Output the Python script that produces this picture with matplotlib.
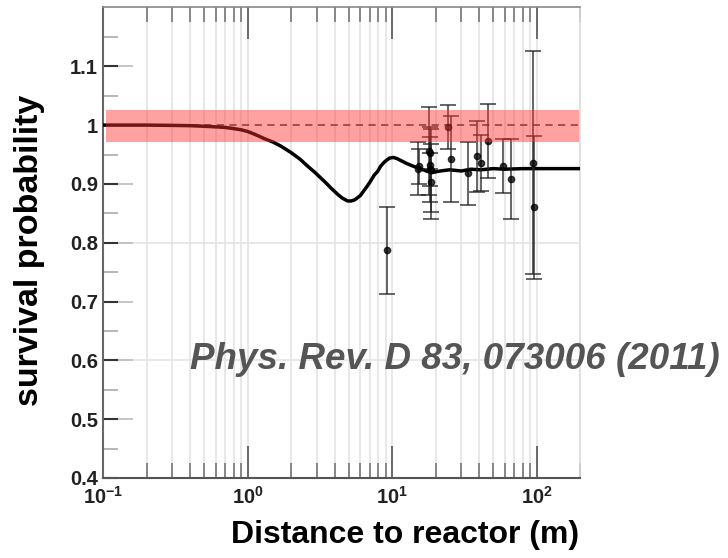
import matplotlib

matplotlib.use("Agg")
import matplotlib.pyplot as plt
import numpy as np

# oscillation curve
curve_x = [0.1, 0.2, 0.3, 0.4, 0.5, 0.6, 0.7, 0.8, 0.9, 1.0, 1.1, 1.2, 1.3,
           1.5, 1.7, 2.0, 2.3, 2.6, 2.9, 3.4, 3.8, 4.2, 4.5, 4.9, 5.2, 5.5,
           6.0, 6.7, 7.0, 7.5, 7.9, 8.3, 8.8, 9.2, 9.6, 10.2, 10.8, 11.2,
           12.5, 14, 16, 18.5, 21.5, 25, 30, 35, 41, 50, 60, 80, 100, 150, 200]
curve_y = [1.000, 1.000, 0.9995, 0.999, 0.998, 0.997, 0.996, 0.994, 0.992,
           0.989, 0.985, 0.981, 0.977, 0.971, 0.964, 0.953, 0.942, 0.930,
           0.920, 0.904, 0.892, 0.882, 0.876, 0.871, 0.871, 0.873, 0.880,
           0.896, 0.903, 0.915, 0.921, 0.930, 0.937, 0.941, 0.944, 0.945,
           0.943, 0.941, 0.935, 0.930, 0.925, 0.919, 0.922, 0.924, 0.922,
           0.925, 0.924, 0.926, 0.925, 0.926, 0.926, 0.926, 0.926]

# measured / expected ratios with their errors
dist = [9.16, 15.0, 15.3, 18.0, 18.2, 18.4, 18.5, 18.3, 18.1, 24.5, 25.4,
        33.7, 38.9, 41.0, 46.3, 58.2, 66.4, 94.9, 96.0]
ratio = [0.787, 0.926, 0.930, 0.956, 0.933, 0.923, 0.904, 0.925, 0.952,
         0.997, 0.943, 0.918, 0.947, 0.936, 0.973, 0.930, 0.908, 0.936, 0.860]
err = [0.074, 0.045, 0.030, 0.074, 0.064, 0.070, 0.064, 0.028, 0.027, 0.037,
       0.073, 0.053, 0.060, 0.048, 0.063, 0.046, 0.068, 0.190, 0.121]

band_lo, band_hi = 0.971, 1.025

xticks = [0.1, 1, 10, 100]
xtick_labels = [r"$10^{-1}$", r"$10^{0}$", r"$10^{1}$", r"$10^{2}$"]
yticks = [0.4, 0.5, 0.6, 0.7, 0.8, 0.9, 1.0, 1.1]
ytick_labels = ["0.4", "0.5", "0.6", "0.7", "0.8", "0.9", "1", "1.1"]

plt.rcParams["font.family"] = ["Liberation Sans", "DejaVu Sans"]
plt.rcParams["mathtext.fontset"] = "custom"
plt.rcParams["mathtext.rm"] = "Liberation Sans:bold"
plt.rcParams["mathtext.bf"] = "Liberation Sans:bold"
plt.rcParams["mathtext.it"] = "Liberation Sans:bold:italic"

fig = plt.figure(figsize=(7.28, 5.58), dpi=100)
ax = fig.add_axes([0.142, 0.1434, 0.655, 0.8432])
ax.set_xscale("log")
ax.set_xlim(0.1, 200)
ax.set_ylim(0.4, 1.2)

# light vertical grid at every decade sub-division
minor_x = [m * 10.0**e for e in (-1, 0, 1, 2) for m in range(1, 10) if m * 10.0**e <= 200]
for xv in minor_x:
    ax.axvline(xv, color="#e4e4e4", lw=1.2, zorder=0)
for yv in (0.6, 0.8):
    ax.axhline(yv, color="#e4e4e4", lw=1.2, zorder=0)
# gray extension of the major y ticks
ax.hlines(yticks, 0, 0.063, transform=ax.get_yaxis_transform(),
          color="#bbbbbb", lw=1.2, zorder=1)

ax.axhline(1.0, color="#555555", lw=1.3, ls=(0, (4, 3)), zorder=2)
ax.plot(curve_x, curve_y, color="black", lw=2.5, zorder=3,
        solid_joinstyle="round")
ax.errorbar(dist, ratio, yerr=err, fmt="o", color="black", ms=4.5,
            ecolor="#222222", elinewidth=1.3, capsize=5.5, capthick=1.3,
            alpha=0.75, zorder=4)
ax.axhspan(band_lo, band_hi, xmin=0.005, xmax=0.997, color="#ff3030",
           alpha=0.45, lw=0, zorder=5)

ax.set_xticks(xticks)
ax.set_xticklabels(xtick_labels)
ax.set_yticks(yticks)
ax.set_yticklabels(ytick_labels)
ax.set_yticks(np.arange(0.45, 1.2, 0.1), minor=True)
ax.set_xticks([v for v in minor_x if v not in xticks], minor=True)
ax.xaxis.set_minor_formatter(matplotlib.ticker.NullFormatter())

ax.tick_params(axis="x", which="major", direction="in", length=23, width=1.2,
               color="#555555", top=True, labelsize=14.5, pad=6)
ax.tick_params(axis="x", which="minor", direction="in", length=11, width=1.2,
               color="#777777", top=True)
ax.tick_params(axis="y", which="major", direction="in", length=11, width=1.5,
               color="#333333", labelsize=14.5, pad=4)
ax.tick_params(axis="y", which="minor", direction="in", length=11, width=1.2,
               color="#aaaaaa")
for lab in ax.get_yticklabels():
    lab.set_fontweight("bold")
    lab.set_color("#222222")
for lab in ax.get_xticklabels():
    lab.set_color("#222222")

ax.spines["left"].set_color("#666666")
ax.spines["left"].set_linewidth(1.5)
ax.spines["bottom"].set_color("#555555")
ax.spines["bottom"].set_linewidth(1.5)
ax.spines["top"].set_color("#888888")
ax.spines["top"].set_linewidth(1.2)
ax.spines["right"].set_color("#dddddd")
ax.spines["right"].set_linewidth(1.2)

fig.text(0.041, 0.552, "survival probability", rotation=90, ha="center",
         va="center", fontsize=24.5, fontweight="bold")
fig.text(0.556, 0.041, "Distance to reactor (m)", ha="center", va="center",
         fontsize=23, fontweight="bold")
fig.text(0.261, 0.355, "Phys. Rev. D 83, 073006 (2011)", ha="left",
         va="center", fontsize=26.5, fontweight="bold", style="italic",
         color="#555555")

fig.savefig("out.png", dpi=100)
